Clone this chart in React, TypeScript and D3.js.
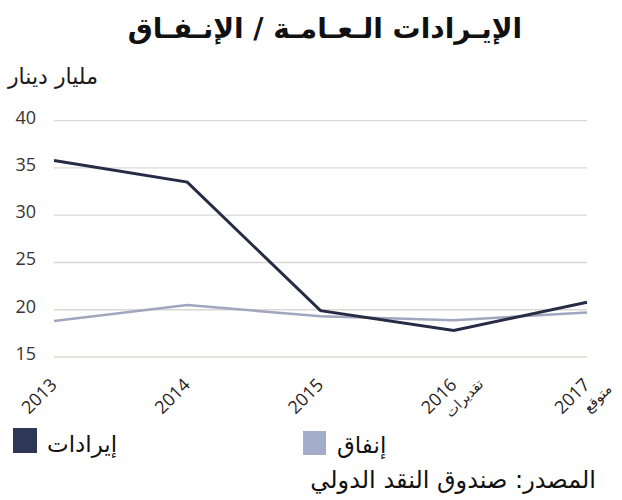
import React from 'react';
import * as d3 from 'd3';

const years = ['2013', '2014', '2015', '2016', '2017'];
const yearNotes = ['', '', '', 'تقديرات', 'متوقع'];
const revenue = [35.8, 33.5, 19.9, 17.8, 20.8];
const spending = [18.8, 20.5, 19.3, 18.9, 19.7];
const yTicks = [15, 20, 25, 30, 35, 40];

const title = 'الإيـرادات الـعـامـة / الإنـفـاق';
const unitLabel = 'مليار دينار';
const revenueLabel = 'إيرادات';
const spendingLabel = 'إنفاق';
const sourceLabel = 'المصدر: صندوق النقد الدولي';

const width = 622;
const height = 500;
const darkLine = '#272c45';
const lightLine = '#a0a6be';
const darkSwatch = '#2f3757';
const lightSwatch = '#a3acc8';
const arabicFont = '"DejaVu Sans", sans-serif';
const numFont = '"Open Sans", sans-serif';

const App = () => {
    const x = d3.scalePoint<string>().domain(years).range([54, 587]);
    const y = d3.scaleLinear().domain([15, 40]).range([357, 120.7]);
    const [x0, x1] = x.range();

    // one line generator for both series
    const line = d3.line<number>()
        .x((_, i) => x(years[i]) as number)
        .y(d => y(d));

    return (
        <svg width={width} height={height}
             style={{position: 'absolute', left: 0, top: 0, background: '#fff'}}>
            <text x={325} y={38} textAnchor="middle" fontFamily={arabicFont}
                  fontWeight="bold" fontSize={28} fill="#111">{title}</text>
            <text x={8} y={84} fontFamily={arabicFont} fontSize={22}
                  fill="#1a1a1a">{unitLabel}</text>

            {/* gridlines + y labels */}
            {yTicks.map(t => (
                <g key={t}>
                    <line x1={x0} x2={x1} y1={y(t)} y2={y(t)}
                          stroke="#dcd7d3" strokeWidth={1.3}/>
                    <text x={36} y={y(t) + 3} textAnchor="end" fontFamily={numFont}
                          fontSize={18} fill="#3a3331">{t}</text>
                </g>
            ))}

            <path d={line(spending) ?? ''} fill="none" stroke={lightLine} strokeWidth={2.5}/>
            <path d={line(revenue) ?? ''} fill="none" stroke={darkLine} strokeWidth={3}/>

            {/* rotated x labels */}
            {years.map((yr, i) => (
                <g key={yr} transform={`translate(${(x(yr) as number) + 4}, 386) rotate(-45)`}>
                    <text textAnchor="end" fontFamily={numFont} fontSize={18}
                          fill="#2a2422">{yr}</text>
                    {yearNotes[i] && (
                        <text x={-4} y={18} textAnchor="middle" fontFamily={arabicFont}
                              fontSize={14} fill="#2a2422">{yearNotes[i]}</text>
                    )}
                </g>
            ))}

            {/* legend */}
            <rect x={13} y={428} width={24} height={25} fill={darkSwatch}/>
            <text x={47} y={452} fontFamily={arabicFont} fontSize={23}
                  fill="#111">{revenueLabel}</text>
            <rect x={303} y={431} width={23} height={24} fill={lightSwatch}/>
            <text x={337} y={453} fontFamily={arabicFont} fontSize={23}
                  fill="#111">{spendingLabel}</text>

            <text x={596} y={488} textAnchor="end" fontFamily={arabicFont} fontSize={24}
                  fill="#111">{sourceLabel}</text>
        </svg>
    );
};

export default App;
